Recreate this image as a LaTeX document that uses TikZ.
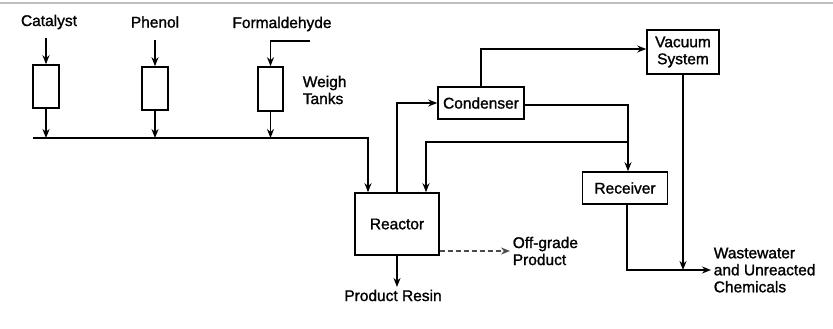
\documentclass[tikz,border=0pt]{standalone}
\usepackage{fontspec}
\setmainfont{Liberation Sans}[BoldFont={Liberation Sans},BoldFeatures={FakeBold=1.3}]
\usetikzlibrary{arrows.meta}
\begin{document}
\begin{tikzpicture}[x=1pt,y=-1pt,
  line width=1.6pt,
  every node/.style={font=\fontsize{15.5}{17}\selectfont\bfseries},
  arr/.style={-{Stealth[length=9pt,width=7pt]}},
  tank/.style={draw,minimum width=26pt,minimum height=43pt,inner sep=0pt},
  unit/.style={draw,inner sep=0pt,align=center},
  lbl/.style={inner sep=2pt,align=left}]
\useasboundingbox (0,0) rectangle (833,329);
\draw[black!25,line width=2pt] (0,3) -- (833,3);
% feed labels
\node[lbl] (cat) at (49,22) {Catalyst};
\node[lbl] (phe) at (155,22) {Phenol};
\node[lbl] (form) at (282,24) {Formaldehyde};
\node[lbl,anchor=west] (weigh) at (300,90) {Weigh\\Tanks};
% tanks
\node[tank] (t1) at (46,86.5) {};
\node[tank] (t2) at (155,88.5) {};
\node[tank,minimum width=25pt,minimum height=44pt] (t3) at (270.5,89) {};
% units
\node[unit,minimum width=84pt,minimum height=62pt] (reactor) at (397,224) {Reactor};
\node[unit,minimum width=86pt,minimum height=32pt] (condenser) at (481,103) {Condenser};
\node[unit,minimum width=72pt,minimum height=44pt] (vacuum) at (683,52) {Vacuum\\System};
\node[unit,minimum width=85pt,minimum height=32pt] (receiver) at (625,188) {Receiver};
% outlet labels
\node[lbl,anchor=north] (resin) at (393,287) {Product Resin};
\node[lbl,anchor=west] (offgrade) at (510,251) {Off-grade\\Product};
\node[lbl,anchor=west] (waste) at (711,270) {Wastewater\\and Unreacted\\Chemicals};
% coordinates
\coordinate (fin) at (310,41);
\coordinate (hL) at (33,138);
\coordinate (hR) at (368,138);
\coordinate (junc) at (628,142);
\coordinate (wout) at (711,270);
\coordinate (c1) at (46,38);
\coordinate (c2) at (155,40);
% feeds into tanks
\draw[arr] (c1) -- (t1.north);
\draw[arr] (c2) -- (t2.north);
\draw[arr] (fin) -| (t3.north);
% tanks to header
\draw[arr] (t1.south) -- (t1.south |- hL);
\draw[arr] (t2.south) -- (t2.south |- hL);
\draw[arr] (t3.south) -- (t3.south |- hL);
\draw[arr] (hL) -- (hR) -- (hR |- reactor.north);
% reactor to condenser
\draw[arr] (reactor.north) |- (condenser.west);
% condenser to vacuum
\draw[arr] (condenser.north) |- ([yshift=3pt]vacuum.west);
% condenser to receiver
\draw[arr] ([yshift=-2pt]condenser.east) -| (junc) -- (junc |- receiver.north);
% recycle
\draw[arr] (junc) -| ([xshift=29pt]reactor.north);
% vacuum down
\draw[arr] (vacuum.south) -- (vacuum.south |- wout);
% receiver to wastewater
\draw[arr] ([xshift=2pt]receiver.south) |- (wout);
% product resin
\draw[arr] (reactor.south) -- (reactor.south |- resin.north);
% off-grade
\draw[arr,dash pattern=on 5pt off 3pt,black!70] ([yshift=-27pt]reactor.east) -- (offgrade.west);
\end{tikzpicture}
\end{document}
